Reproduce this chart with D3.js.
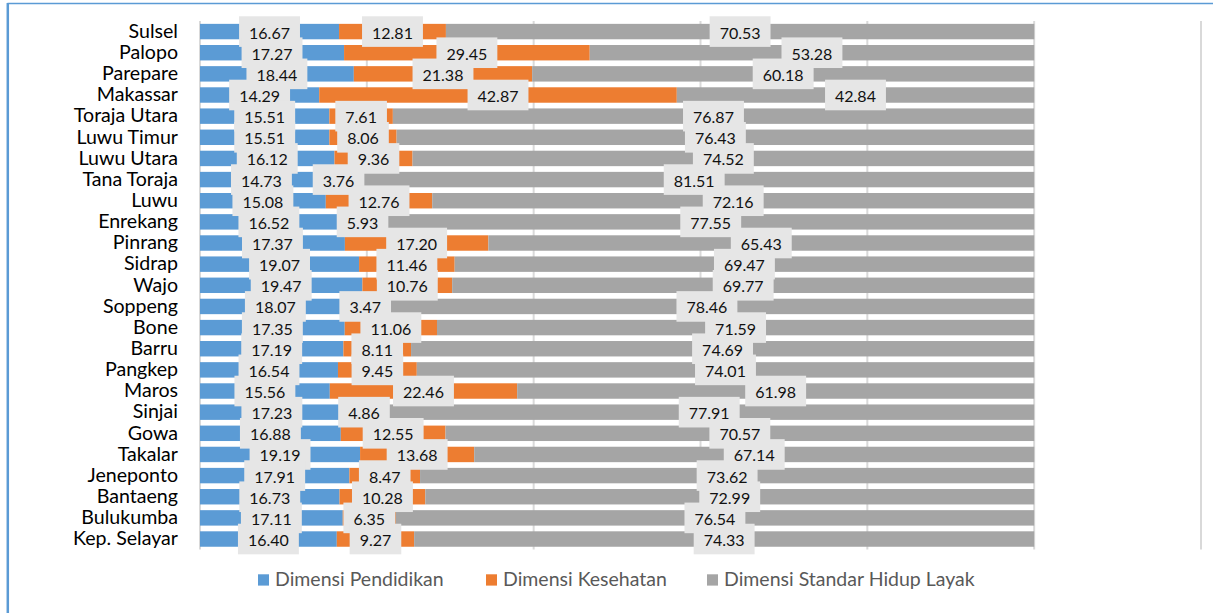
<!DOCTYPE html>
<html>
<head>
<meta charset="utf-8">
<script src="https://cdn.jsdelivr.net/npm/d3@7"></script>
<style>
  html, body { margin: 0; padding: 0; background: #fff; }
  svg { display: block; }
</style>
</head>
<body>
<svg id="chart" width="1213" height="613"></svg>
<script>
const categories = ["Sulsel","Palopo","Parepare","Makassar","Toraja Utara","Luwu Timur","Luwu Utara","Tana Toraja","Luwu","Enrekang","Pinrang","Sidrap","Wajo","Soppeng","Bone","Barru","Pangkep","Maros","Sinjai","Gowa","Takalar","Jeneponto","Bantaeng","Bulukumba","Kep. Selayar"];
const seriesNames = ["Dimensi Pendidikan","Dimensi Kesehatan","Dimensi Standar Hidup Layak"];
const pendidikan = [16.67,17.27,18.44,14.29,15.51,15.51,16.12,14.73,15.08,16.52,17.37,19.07,19.47,18.07,17.35,17.19,16.54,15.56,17.23,16.88,19.19,17.91,16.73,17.11,16.40];
const kesehatan = [12.81,29.45,21.38,42.87,7.61,8.06,9.36,3.76,12.76,5.93,17.20,11.46,10.76,3.47,11.06,8.11,9.45,22.46,4.86,12.55,13.68,8.47,10.28,6.35,9.27];
const standarHidup = [70.53,53.28,60.18,42.84,76.87,76.43,74.52,81.51,72.16,77.55,65.43,69.47,69.77,78.46,71.59,74.69,74.01,61.98,77.91,70.57,67.14,73.62,72.99,76.54,74.33];
const xTicks = [0,20,40,60,80,100,120];

const colors = ["#5B9BD5","#ED7D31","#A5A5A5"];
const FONT = "Lato, 'Open Sans', sans-serif";

const svg = d3.select("#chart");

// outer chart frame
svg.append("line").attr("x1",7.5).attr("x2",1213).attr("y1",3.5).attr("y2",3.5)
  .attr("stroke","#5B9BD5").attr("stroke-width",1.5);
svg.append("line").attr("x1",7.8).attr("x2",7.8).attr("y1",3).attr("y2",613)
  .attr("stroke","#5B9BD5").attr("stroke-width",2.5);

const x = d3.scaleLinear().domain([0,120]).range([200,1201]);
const y = d3.scaleBand().domain(categories).range([21,549.6]).paddingInner(0.27).paddingOuter(0.135);

// gridlines
svg.append("g").selectAll("line").data(xTicks).join("line")
  .attr("x1", d => x(d)).attr("x2", d => x(d))
  .attr("y1", 21).attr("y2", 549.6)
  .attr("stroke", "#d9d9d9").attr("stroke-width", 2);

const stackData = categories.map((c,i) => ({cat:c, s0:pendidikan[i], s1:kesehatan[i], s2:standarHidup[i]}));
const series = d3.stack().keys(["s0","s1","s2"])(stackData);

// bars
const gBars = svg.append("g");
series.forEach((s, si) => {
  gBars.append("g").attr("fill", colors[si]).selectAll("rect").data(s).join("rect")
    .attr("x", d => x(d[0]))
    .attr("width", d => x(d[1]) - x(d[0]))
    .attr("y", d => y(d.data.cat))
    .attr("height", y.bandwidth());
});

// category labels
svg.append("g").selectAll("text").data(categories).join("text")
  .attr("x", 178)
  .attr("y", d => y(d) + y.bandwidth()/2 + 6.3)
  .attr("text-anchor","end")
  .attr("font-family", FONT).attr("font-size", 19.6).attr("fill","#000")
  .text(d => d);

// data labels: boxes first, then texts
const labels = [];
series.forEach(s => s.forEach(d => labels.push({
  cx: (x(d[0]) + x(d[1]))/2,
  cy: y(d.data.cat) + y.bandwidth()/2,
  txt: (d[1]-d[0]).toFixed(2)
})));
const gBox = svg.append("g");
const gTxt = svg.append("g");
labels.forEach(l => {
  const t = gTxt.append("text")
    .attr("x", l.cx).attr("y", l.cy + 7)
    .attr("text-anchor","middle")
    .attr("font-family", FONT).attr("font-size", 16).attr("fill","#111")
    .text(l.txt);
  const w = t.node().getComputedTextLength();
  gBox.append("rect")
    .attr("x", l.cx - w/2 - 10).attr("width", w + 20)
    .attr("y", l.cy - 15.3).attr("height", 30.6)
    .attr("fill", "#E6E6E6");
});

// legend
const legendX = [258, 486, 707];
const gLeg = svg.append("g");
seriesNames.forEach((n, i) => {
  gLeg.append("rect").attr("x", legendX[i]).attr("y", 574.3).attr("width", 11).attr("height", 11.3).attr("fill", colors[i]);
  gLeg.append("text").attr("x", legendX[i] + 17).attr("y", 586)
    .attr("font-family", FONT).attr("font-size", 19.5).attr("fill","#595959").text(n);
});
</script>
</body>
</html>
